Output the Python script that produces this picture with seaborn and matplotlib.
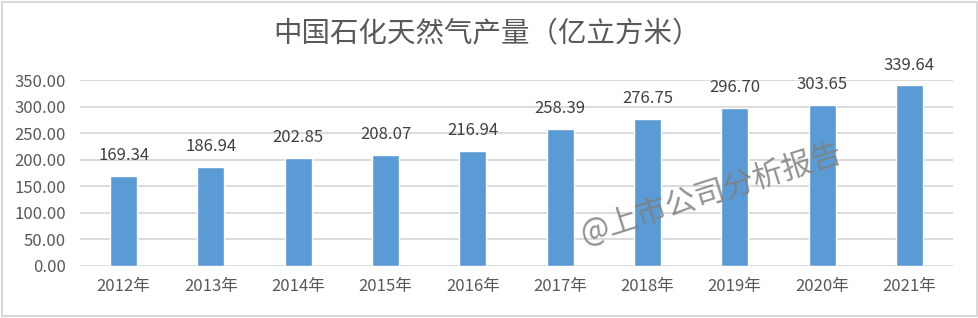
import matplotlib
matplotlib.use("Agg")
import matplotlib.pyplot as plt
import seaborn as sns
import pandas as pd
from matplotlib.patches import Rectangle

years = ["2012年", "2013年", "2014年", "2015年", "2016年", "2017年", "2018年", "2019年", "2020年", "2021年"]
values = [169.34, 186.94, 202.85, 208.07, 216.94, 258.39, 276.75, 296.70, 303.65, 339.64]
yticks = [0, 50, 100, 150, 200, 250, 300, 350]
title = "中国石化天然气产量（亿立方米）"
watermark = "@上市公司分析报告"

sns.set_theme(style="white")
plt.rcParams['font.family'] = ['Noto Sans CJK SC', 'DejaVu Sans']

df = pd.DataFrame({"year": years, "value": values})

fig = plt.figure(figsize=(9.79, 3.18), dpi=100)
ax = fig.add_axes([80/979, 1-265.7/318, (953-80)/979, (265.7-80)/318])

sns.barplot(data=df, x="year", y="value", color="#5B9BD5", width=0.31,
            saturation=1, ax=ax, zorder=3)

ax.set_ylim(0, 350)
ax.set_yticks(yticks)
ax.set_yticklabels([f"{v:.2f}" for v in yticks])
ax.set_xlim(-0.5, len(years)-0.5)
ax.yaxis.grid(True, color="#D9D9D9", linewidth=1.3, zorder=0)
ax.xaxis.grid(False)
for s in ax.spines.values():
    s.set_visible(False)
ax.set_xlabel("")
ax.set_ylabel("")
ax.tick_params(axis='y', length=0, pad=10, labelsize=12, labelcolor="#595959")
ax.tick_params(axis='x', length=0, pad=9, labelsize=12, labelcolor="#595959")

for i, v in enumerate(values):
    ax.annotate(f"{v:.2f}", (i, v), xytext=(0, 11.5), textcoords="offset points",
                ha="center", va="baseline", fontsize=12, color="#404040")

fig.text(487/979, 1-34/318, title, ha="center", va="center", fontsize=20.5,
         color="#595959", fontweight="light")

fig.text(711/979, 1-194/318, watermark, ha="center", va="center", fontsize=22,
         color="#7F7F7F", alpha=0.85, rotation=17.5, zorder=10)

fig.patches.append(Rectangle((2/979, 2/318), 975/979, 314/318, transform=fig.transFigure,
                             fill=False, edgecolor="#D9D9D9", linewidth=1.5))

fig.savefig("out.png", dpi=100)
